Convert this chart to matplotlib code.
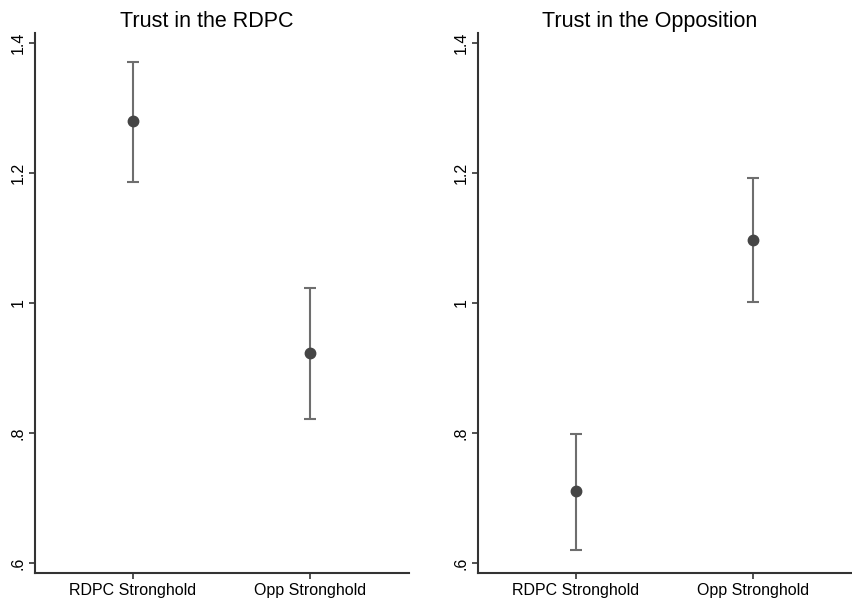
import matplotlib.pyplot as plt
import numpy as np

plt.rcParams['font.family'] = ['Liberation Sans', 'DejaVu Sans']

groups = ["RDPC Stronghold", "Opp Stronghold"]
titles = ["Trust in the RDPC", "Trust in the Opposition"]

# point estimates with lower / upper confidence bounds
rdpc_mean = [1.280, 0.923]
rdpc_lo = [1.186, 0.821]
rdpc_hi = [1.371, 1.023]

opp_mean = [0.711, 1.097]
opp_lo = [0.620, 1.001]
opp_hi = [0.799, 1.192]

yticks = [0.6, 0.8, 1.0, 1.2, 1.4]
ytick_labels = [".6", ".8", "1", "1.2", "1.4"]

fig = plt.figure(figsize=(8.53, 6.03), dpi=100)
ax1 = fig.add_axes([0.041, 0.0498, 0.4385, 0.8955])
ax2 = fig.add_axes([0.5604, 0.0498, 0.4385, 0.8955])

panels = [(ax1, rdpc_mean, rdpc_lo, rdpc_hi), (ax2, opp_mean, opp_lo, opp_hi)]

for i, (ax, mean, lo, hi) in enumerate(panels):
    x = np.arange(1, len(groups) + 1)
    mean = np.array(mean)
    err = [mean - np.array(lo), np.array(hi) - mean]
    ax.errorbar(x, mean, yerr=err, fmt="none", ecolor="#6e6e6e",
                elinewidth=1.5, capsize=4.5, capthick=1.5, zorder=2)
    ax.plot(x, mean, "o", color="#454545", markersize=7.5, zorder=3)

    ax.set_xlim(0.446, 2.56)
    ax.set_ylim(0.5846, 1.415)
    ax.set_xticks(x)
    ax.set_xticklabels(groups, fontsize=11.5)
    ax.set_yticks(yticks)
    ax.set_yticklabels(ytick_labels, fontsize=11.5, rotation=90, va="center")
    ax.tick_params(axis="both", length=4, width=1.2, color="#333333", pad=3)

    ax.spines["top"].set_visible(False)
    ax.spines["right"].set_visible(False)
    for s in ["left", "bottom"]:
        ax.spines[s].set_linewidth(1.5)
        ax.spines[s].set_color("#333333")

    ax.set_title(titles[i], fontsize=15.5, x=0.458, pad=4)

plt.savefig("out.png", dpi=100)
